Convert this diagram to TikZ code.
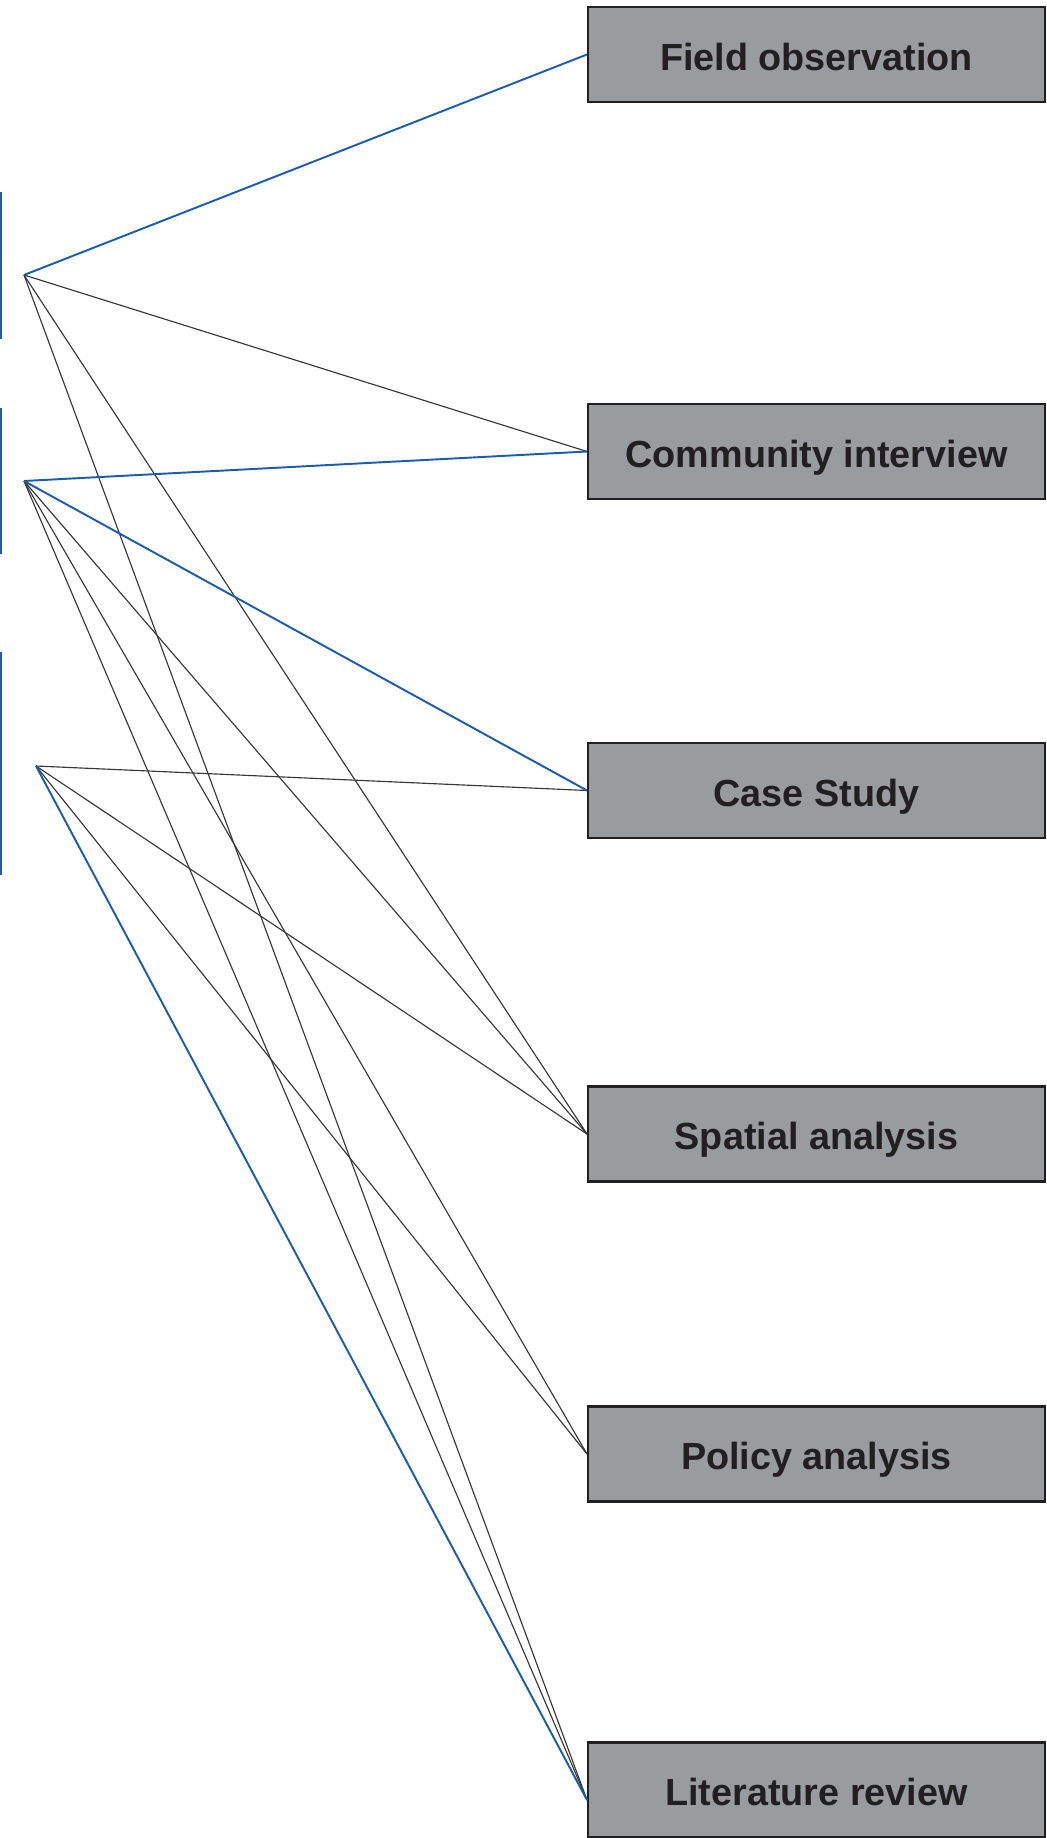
\documentclass[tikz,border=0pt]{standalone}
\usepackage{fontspec}
\setmainfont{Liberation Sans}
\usetikzlibrary{calc}
\definecolor{lnblue}{RGB}{28,92,172}
\definecolor{lndark}{RGB}{55,55,55}
\definecolor{boxgray}{RGB}{152,156,158}
\definecolor{boxedge}{RGB}{35,31,32}
\tikzset{
  meth/.style={draw=boxedge,line width=1.2pt,fill=boxgray,minimum width=9.14cm,minimum height=1.9cm,inner sep=0pt,text height=18pt,text depth=0pt,font=\fontsize{21.5}{24}\selectfont\bfseries,text=boxedge},
  grp/.style={draw=lnblue,line width=1.1pt,fill=white,minimum width=1cm,inner sep=0pt},
  lk/.style={lndark,line width=0.65pt},
  blk/.style={lnblue,line width=1.1pt},
}

\begin{document}
\begin{tikzpicture}[x=0.02cm,y=-0.02cm]
  \useasboundingbox (0,0) rectangle (1046,1838);
  % group frames, cut by the left edge
  \node[grp,minimum height=2.9cm,anchor=east] (g1) at (2,265.5) {};
  \node[grp,minimum height=2.88cm,anchor=east] (g2) at (2,481) {};
  \node[grp,minimum height=4.42cm,anchor=east] (g3) at (2,763.5) {};
  \coordinate (h1) at (24,275);
  \coordinate (h2) at (24,481);
  \coordinate (h3) at (36,766);
  % methods
  \node[meth] (fo) at (816.5,54.5) {Field observation};
  \node[meth] (ci) at (816.5,451.5) {Community interview};
  \node[meth] (cs) at (816.5,790.5) {Case Study};
  \node[meth] (sa) at (816.5,1134) {Spatial analysis};
  \node[meth] (pa) at (816.5,1454) {Policy analysis};
  \node[meth] (lr) at (816.5,1790) {Literature review};
  \coordinate (lrin) at ($(lr.west)+(0,10)$);
  % links
  \foreach \a/\b in {h1/ci.west,h1/sa.west,h1/lrin,h2/sa.west,h2/pa.west,h2/lrin,h3/cs.west,h3/sa.west,h3/pa.west}
    \draw[lk] (\a) -- (\b);
  \draw[blk] (h1) -- (fo.west);
  \draw[blk] (h2) -- (ci.west);
  \draw[blk] (h2) -- (cs.west);
  \draw[blk] (h3) -- (lrin);
\end{tikzpicture}
\end{document}
